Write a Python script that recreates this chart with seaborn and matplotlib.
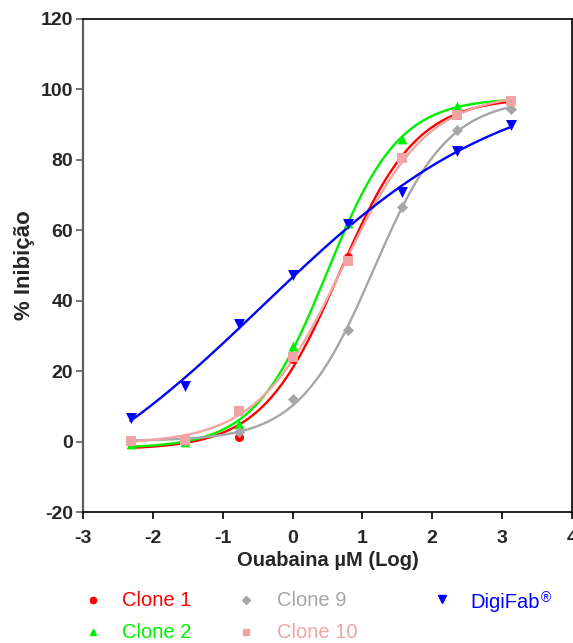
import numpy as np
import pandas as pd
import matplotlib
matplotlib.use("Agg")
import matplotlib.pyplot as plt
import seaborn as sns

# log10 of ouabain concentration (µM)
log_dose = [-2.32, -1.54, -0.76, 0.01, 0.79, 1.57, 2.35, 3.13]

clone1 = [-0.5, 0.2, 1.3, 23.5, 52.5, 80.7, 93.5, 96.5]
clone2 = [-0.8, 0.0, 5.0, 27.0, 62.0, 86.0, 95.3, 97.0]
clone9 = [0.2, 0.2, 2.8, 12.0, 31.6, 66.6, 88.6, 94.5]
clone10 = [0.2, 0.5, 8.8, 24.0, 51.2, 80.5, 92.8, 96.6]
digifab = [6.8, 15.9, 33.5, 47.2, 61.8, 70.8, 82.5, 89.8]

series_names = ["Clone 1", "Clone 2", "Clone 9", "Clone 10", "DigiFab"]
series_values = [clone1, clone2, clone9, clone10, digifab]
colors = ["#ff0000", "#00f000", "#a6a6a6", "#f0a4a4", "#0000ff"]
markers = ["o", "^", "D", "s", "v"]
marker_sizes = [42, 50, 32, 42, 62]

x_ticks = [-3, -2, -1, 0, 1, 2, 3, 4]
y_ticks = [-20, 0, 20, 40, 60, 80, 100, 120]


def fit_4pl(x, y):
    """Least-squares four-parameter logistic fit (grid over EC50/Hill,
    closed-form bottom/top)."""
    x = np.asarray(x, float)
    y = np.asarray(y, float)
    c = np.linspace(-2.5, 3.5, 601)[:, None, None]
    h = np.linspace(0.2, 2.5, 231)[None, :, None]
    s = 1.0 / (1.0 + 10 ** ((c - x[None, None, :]) * h))
    n = len(x)
    ss = s.sum(-1)
    ss2 = (s * s).sum(-1)
    sy = (s * y).sum(-1)
    det = n * ss2 - ss ** 2
    det = np.where(np.abs(det) < 1e-12, 1e-12, det)
    b = (ss2 * y.sum() - ss * sy) / det
    a = (n * sy - ss * y.sum()) / det
    pred = b[..., None] + a[..., None] * s
    err = ((pred - y) ** 2).sum(-1)
    i, j = np.unravel_index(np.argmin(err), err.shape)
    return b[i, j], b[i, j] + a[i, j], c[i, 0, 0], h[0, j, 0]


def logistic(xx, bottom, top, logec50, hill):
    return bottom + (top - bottom) / (1 + 10 ** ((logec50 - xx) * hill))


points = pd.DataFrame({
    "dose": np.tile(log_dose, len(series_names)),
    "inhib": np.concatenate(series_values),
    "series": np.repeat(series_names, len(log_dose)),
})

xx = np.linspace(min(log_dose), max(log_dose), 300)
curve_frames = []
for name, vals in zip(series_names, series_values):
    params = fit_4pl(log_dose, vals)
    curve_frames.append(pd.DataFrame({"dose": xx, "inhib": logistic(xx, *params),
                                      "series": name}))
curves = pd.concat(curve_frames, ignore_index=True)

sns.set_style("ticks")
plt.rcParams["font.family"] = ["Liberation Sans", "DejaVu Sans"]

fig = plt.figure(figsize=(5.73, 6.43), dpi=100)
ax = fig.add_axes([0.1449, 0.2037, 0.8531, 0.7668])

for name, col, mk, ms in zip(series_names, colors, markers, marker_sizes):
    sns.lineplot(data=curves[curves.series == name], x="dose", y="inhib",
                 color=col, linewidth=1.7, ax=ax, legend=False, zorder=2)
    sns.scatterplot(data=points[points.series == name], x="dose", y="inhib",
                    color=col, marker=mk, s=ms, linewidth=0, ax=ax,
                    legend=False, zorder=3)

ax.set_xlim(-3, 4)
ax.set_ylim(-20, 120)
ax.set_xticks(x_ticks)
ax.set_yticks(y_ticks)
ax.set_xticklabels([str(t) for t in x_ticks], fontsize=14, fontweight="bold")
ax.set_yticklabels([str(t) for t in y_ticks], fontsize=14, fontweight="bold")
ax.set_xlabel("Ouabaina µM (Log)", fontsize=14.5, fontweight="bold", labelpad=3)
ax.set_ylabel("% Inibição", fontsize=16, fontweight="bold", labelpad=4)

for side in ["top", "right", "bottom"]:
    ax.spines[side].set_color("black")
    ax.spines[side].set_linewidth(1.2)
ax.spines["left"].set_color("#5f5f5f")
ax.spines["left"].set_linewidth(1.6)
ax.tick_params(axis="x", length=5, width=1.2, color="black", pad=8)
ax.tick_params(axis="y", length=5, width=1.2, color="#5f5f5f", pad=2)

# legend drawn below the axes in pixel coordinates
lax = fig.add_axes([0, 0, 1, 1], facecolor="none")
lax.set_xlim(0, 573)
lax.set_ylim(643, 0)
lax.axis("off")
leg_items = [
    ("Clone 1", 93, 122, 600),
    ("Clone 2", 93, 122, 632),
    ("Clone 9", 246, 277, 600),
    ("Clone 10", 246, 277, 632),
    ("DigiFab", 442, 470, 603),
]
leg_ms = [4.5, 5, 4, 4.5, 5.5]
for (label, mx, tx, ty), col, mk, ms in zip(leg_items, colors, markers, leg_ms):
    my = ty - 4 if label == "DigiFab" else ty
    lax.plot([mx], [my], marker=mk, color=col, markersize=ms, linestyle="none")
    t = lax.text(tx, ty, label, color=col, fontsize=14.5, va="center", ha="left")
    if label == "DigiFab":
        lax.annotate("®", xy=(1, 1), xycoords=t, xytext=(1, 2),
                     textcoords="offset points", color=col, fontsize=10,
                     va="top", ha="left")

fig.savefig("out.png", dpi=100)
